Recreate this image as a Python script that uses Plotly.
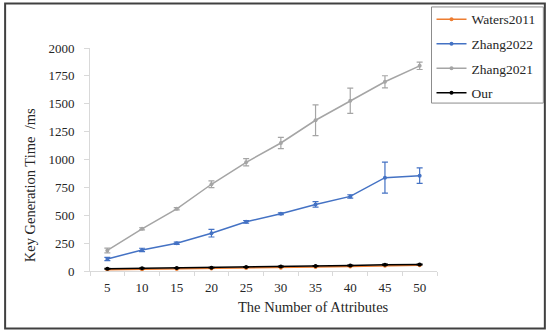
import plotly.graph_objects as go

attributes = [5, 10, 15, 20, 25, 30, 35, 40, 45, 50]
waters2011 = [12, 15, 18, 22, 26, 30, 35, 40, 48, 52]
zhang2022 = [108, 189, 249, 339, 441, 513, 597, 669, 837, 855]
zhang2022_err = [15, 15, 10, 34, 12, 8, 25, 15, 139, 69]
zhang2021 = [184, 378, 558, 778, 975, 1148, 1352, 1527, 1697, 1840]
zhang2021_err = [21, 10, 10, 31, 33, 50, 138, 114, 54, 33]
our = [20, 24, 28, 30, 36, 40, 45, 50, 57, 58]
our_err = [4, 3, 3, 3, 4, 4, 4, 4, 5, 4]
y_ticks = [0, 250, 500, 750, 1000, 1250, 1500, 1750, 2000]

FONT = "Liberation Serif"
L, R, T, B = 90, 437.5, 48, 270.7
PW, PH = R - L, B - T

def px(x):
    return (x - L) / PW

def py(y):
    return (B - y) / PH

fig = go.Figure()

def add(name, y, color, err=None, rank=1):
    fig.add_trace(go.Scatter(
        x=attributes, y=y, name=name, mode="lines+markers",
        line=dict(color=color, width=1.5),
        marker=dict(color=color, size=4),
        error_y=dict(type="data", array=err, color=color, thickness=1.2, width=3) if err else None,
        legendrank=rank, legendgroup=name,
    ))

add("Zhang2021", zhang2021, "#a5a5a5", zhang2021_err, 3)
add("Zhang2022", zhang2022, "#4472c4", zhang2022_err, 2)
add("Waters2011", waters2011, "#ed7d31", None, 1)
add("Our", our, "#000000", our_err, 4)

fig.update_layout(
    width=550, height=332,
    margin=dict(l=L, r=550 - R, t=T, b=332 - B, autoexpand=False),
    paper_bgcolor="white", plot_bgcolor="white",
    font=dict(family=FONT, size=13, color="#262626"),
    showlegend=True,
    legend=dict(
        x=px(432), y=py(4), xanchor="left", yanchor="top",
        bgcolor="rgba(0,0,0,0)", borderwidth=0,
        font=dict(family=FONT, size=13.5, color="#262626"),
        tracegroupgap=4, itemwidth=30,
    ),
    xaxis=dict(
        range=[2.5, 52.5], tickvals=attributes, ticks="",
        showline=True, linecolor="#d9d9d9", linewidth=1, showgrid=False, zeroline=False,
        minor=dict(ticks="outside", tick0=2.5, dtick=5, ticklen=4, tickcolor="#d9d9d9", showgrid=False),
        ticklabelstandoff=4,
    ),
    yaxis=dict(
        range=[0, 2000], tickvals=y_ticks, ticks="outside", ticklen=5, tickcolor="#d9d9d9",
        showline=True, linecolor="#d9d9d9", linewidth=1, showgrid=False, zeroline=False,
        ticklabelstandoff=7,
    ),
    annotations=[
        dict(text="Key Generation Time\u00a0\u00a0/ms", xref="paper", yref="paper",
             x=px(30), y=py(185), xanchor="center", yanchor="middle", textangle=-90,
             showarrow=False, font=dict(family=FONT, size=14.5, color="#262626")),
        dict(text="The Number of Attributes", xref="paper", yref="paper",
             x=px(314), y=py(307), xanchor="center", yanchor="middle",
             showarrow=False, font=dict(family=FONT, size=14.5, color="#262626")),
    ],
    shapes=[
        dict(type="rect", xref="paper", yref="paper",
             x0=px(5), x1=px(545.5), y0=py(328), y1=py(3.5),
             line=dict(color="#404040", width=2)),
        dict(type="rect", xref="paper", yref="paper",
             x0=px(432), x1=px(544), y0=py(103), y1=py(7),
             line=dict(color="#8c8c8c", width=1)),
    ],
)

fig.write_html("out.html", config={"displayModeBar": False},
               post_script="document.body.style.margin='0';")
